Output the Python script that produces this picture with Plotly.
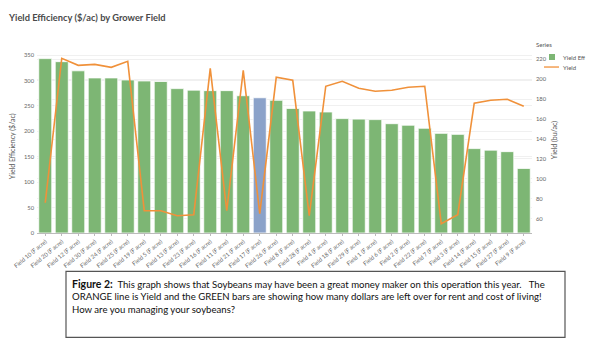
import plotly.graph_objects as go

fields = ["Field 10 (F acre)", "Field 20 (F acre)", "Field 12 (F acre)", "Field 30 (F acre)",
          "Field 24 (F acre)", "Field 25 (F acre)", "Field 19 (F acre)", "Field 5 (F acre)",
          "Field 13 (F acre)", "Field 23 (F acre)", "Field 16 (F acre)", "Field 11 (F acre)",
          "Field 21 (F acre)", "Field 17 (F acre)", "Field 26 (F acre)", "Field 8 (F acre)",
          "Field 28 (F acre)", "Field 4 (F acre)", "Field 18 (F acre)", "Field 29 (F acre)",
          "Field 1 (F acre)", "Field 6 (F acre)", "Field 2 (F acre)", "Field 22 (F acre)",
          "Field 7 (F acre)", "Field 3 (F acre)", "Field 14 (F acre)", "Field 15 (F acre)",
          "Field 27 (F acre)", "Field 9 (F acre)"]
yield_eff = [343, 337, 319, 305, 305, 301, 299, 298, 284, 281, 280, 280, 270, 266, 261,
             245, 240, 238, 225, 224, 223, 215, 212, 206, 196, 194, 166, 163, 160, 127]
yield_bu = [76, 221, 214, 215, 212, 218, 68, 68, 63, 64, 211, 68, 209, 65, 202,
            199, 63, 193, 198, 191, 188, 189, 192, 193, 55, 64, 176, 179, 180, 173]
highlight_field = "Field 17 (F acre)"

GREEN = "#7db674"
BLUE = "#8ba2c9"
ORANGE = "#f0913a"
FONT = "Lato"

# plot area in pixels
L, R, T, B = 37, 532, 52, 232.7
W, H = 600, 347
def X(px):
    return (px - L) / (R - L)
def Y(py):
    return (B - py) / (B - T)

bar_colors = [BLUE if f == highlight_field else GREEN for f in fields]

fig = go.Figure()
fig.add_trace(go.Bar(x=fields, y=yield_eff, name="Yield Eff",
                     marker=dict(color=bar_colors, line=dict(color="white", width=0.8)),
                     showlegend=False))
fig.add_trace(go.Scatter(x=fields, y=yield_bu, name="Yield", mode="lines", yaxis="y2",
                         line=dict(color=ORANGE, width=1.6), showlegend=False))

fig.update_layout(
    width=W, height=H,
    margin=dict(l=L, r=W - R, t=T, b=H - B, pad=0),
    paper_bgcolor="white", plot_bgcolor="white",
    bargap=0.21,
    font=dict(family=FONT, color="#666"),
    xaxis=dict(tickangle=-40, tickfont=dict(size=5.8, color="#666"),
               showgrid=False, showline=True, linecolor="#bbb", linewidth=1,
               ticks="outside", ticklen=2, tickcolor="#bbb"),
    yaxis=dict(range=[0, 356], tickvals=[0, 50, 100, 150, 200, 250, 300, 350],
               tickfont=dict(size=5.8, color="#666"), showgrid=True, gridcolor="#f0f0f0",
               zeroline=False, ticks="", ticklabelstandoff=2),
    yaxis2=dict(range=[45.6, 227.4], overlaying="y", side="right",
                tickvals=[60, 80, 100, 120, 140, 160, 180, 200, 220],
                tickfont=dict(size=5.8, color="#666"), showgrid=True, gridcolor="#f0f0f0",
                zeroline=False, ticks="", ticklabelstandoff=3),
)

ann = []
ann.append(dict(x=X(6), y=Y(18), xref="paper", yref="paper", xanchor="left", yanchor="middle",
                text="<b>Yield Efficiency ($/ac) by Grower Field</b>", showarrow=False,
                font=dict(family=FONT, size=9.3, color="#4a4a4a")))
ann.append(dict(x=X(12), y=Y(146), xref="paper", yref="paper", xanchor="center", yanchor="middle",
                text="Yield Efficiency ($/ac)", textangle=-90, showarrow=False,
                font=dict(family=FONT, size=7, color="#555")))
ann.append(dict(x=X(554), y=Y(140), xref="paper", yref="paper", xanchor="center", yanchor="middle",
                text="Yield (bu/ac)", textangle=-90, showarrow=False,
                font=dict(family=FONT, size=7, color="#555")))
# legend
ann.append(dict(x=X(534), y=Y(45), xref="paper", yref="paper", xanchor="left", yanchor="middle",
                text="Series", showarrow=False, font=dict(family=FONT, size=6, color="#555")))
ann.append(dict(x=X(561), y=Y(57), xref="paper", yref="paper", xanchor="left", yanchor="middle",
                text="Yield Eff", showarrow=False, font=dict(family=FONT, size=6, color="#555")))
ann.append(dict(x=X(561), y=Y(67), xref="paper", yref="paper", xanchor="left", yanchor="middle",
                text="Yield", showarrow=False, font=dict(family=FONT, size=6, color="#555")))
# caption
ann.append(dict(x=X(70), y=Y(276), xref="paper", yref="paper", xanchor="left", yanchor="top",
                align="left", showarrow=False,
                text=("<b><span style='font-size:10.5px'>Figure 2:</span></b>  This graph shows that Soybeans may have been a great money maker on this operation this year.   The<br>"
                      "ORANGE line is Yield and the GREEN bars are showing how many dollars are left over for rent and cost of living!<br>"
                      "How are you managing your soybeans?"),
                font=dict(family=FONT, size=9.6, color="#111")))
fig.update_layout(annotations=ann)

shapes = [
    dict(type="rect", xref="paper", yref="paper", x0=X(549), x1=X(555), y0=Y(54), y1=Y(60),
         fillcolor=GREEN, line=dict(width=0)),
    dict(type="line", xref="paper", yref="paper", x0=X(544), x1=X(559), y0=Y(67), y1=Y(67),
         line=dict(color=ORANGE, width=1.3)),
    dict(type="rect", xref="paper", yref="paper", x0=X(66), x1=X(565), y0=Y(271), y1=Y(337),
         line=dict(color="#555", width=1.2), fillcolor="rgba(0,0,0,0)"),
]
fig.update_layout(shapes=shapes)

fig.write_html("out.html")
